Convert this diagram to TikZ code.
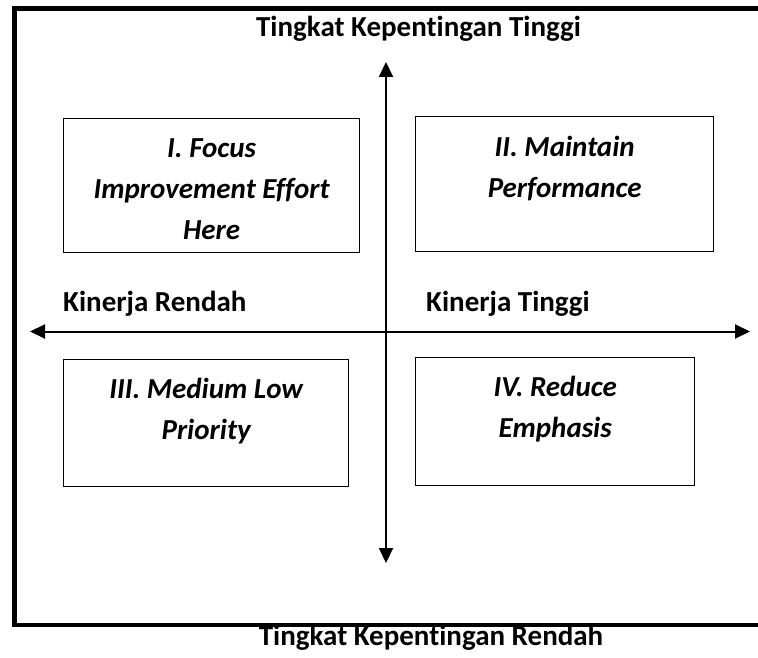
\documentclass[tikz,border=0pt]{standalone}
\usepackage{fontspec}
\setmainfont{Carlito}[Ligatures=NoCommon]
\usetikzlibrary{arrows.meta,positioning}

\begin{document}
\begin{tikzpicture}[x=1pt, y=-1pt,
   frame/.style={line width=4.5pt},
   axis/.style={line width=2pt,
      {Triangle[length=15pt,width=14pt]}-{Triangle[length=15pt,width=14pt]}},
   quad/.style={draw, line width=1.3pt, anchor=north west, inner sep=0pt},
   quadtext/.style={align=center, inner sep=0pt,
      font=\fontsize{29}{41}\selectfont\bfseries\itshape},
   axislabel/.style={anchor=base, inner sep=0pt,
      font=\fontsize{29}{35}\selectfont\bfseries}]

\clip (0,0) rectangle (758,658);

% frame, open on the right
\draw[frame] (775,8.5) -- (14.5,8.5) -- (14.5,625) -- (775,625);

% axes
\coordinate (imp-high) at (386,62);
\coordinate (imp-low) at (386,563);
\coordinate (perf-low) at (30,331.5);
\coordinate (perf-high) at (750,331.5);
\draw[axis] (imp-low) -- (imp-high);
\draw[axis] (perf-low) -- (perf-high);

\node[axislabel] (imp-high-label) at (418.5,36.5) {Tingkat Kepentingan Tinggi};
\node[axislabel] (imp-low-label) at (431,645) {Tingkat Kepentingan Rendah};
\node[axislabel, anchor=base west] (perf-low-label) at (63,311) {Kinerja Rendah};
\node[axislabel, anchor=base west] (perf-high-label) at (426,311) {Kinerja Tinggi};

% quadrants
\node[quad, minimum width=296pt, minimum height=134pt] (q1) at (63,118) {};
\node[quadtext, below=20pt of q1.north] (q1-text) {I. Focus\\Improvement Effort\\Here};

\node[quad, minimum width=298pt, minimum height=135pt] (q2) at (415,116) {};
\node[quadtext, below=20pt of q2.north] (q2-text) {II. Maintain\\Performance};

\node[quad, minimum width=285pt, minimum height=127pt] (q3) at (63,359) {};
\node[quadtext, below=19pt of q3.north] (q3-text) {III. Medium Low\\Priority};

\node[quad, minimum width=279pt, minimum height=128pt] (q4) at (415,357) {};
\node[quadtext, below=19pt of q4.north] (q4-text) {IV. Reduce\\Emphasis};

\end{tikzpicture}
\end{document}
